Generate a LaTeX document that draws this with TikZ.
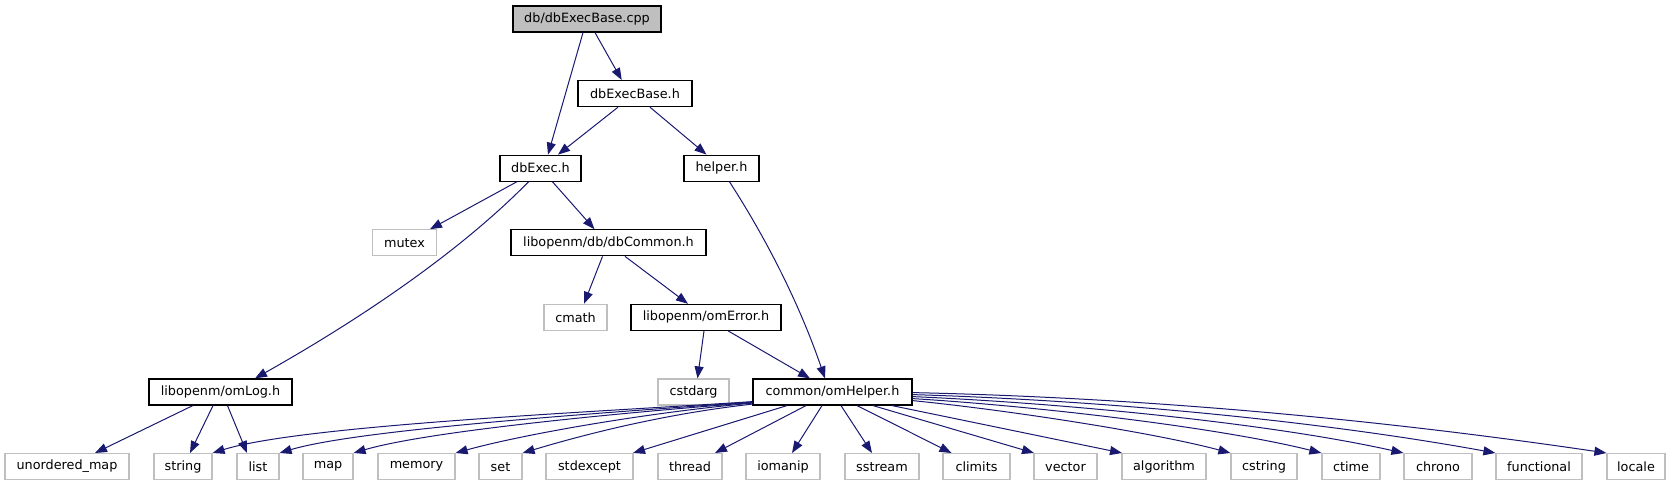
\documentclass[tikz,border=0pt]{standalone}
\usepackage{fontspec}
\setmainfont{DejaVu Sans}
\usetikzlibrary{arrows.meta, calc}
\definecolor{midnight}{HTML}{191970}
\definecolor{extgray}{HTML}{BFBFBF}

\begin{document}
\begin{tikzpicture}[
    x=1pt, y=-1pt,
    >={Triangle[length=12pt,width=9pt]},
    every node/.style={font=\fontsize{12.8}{15}\selectfont, inner sep=0pt, minimum height=26pt},
    hdr/.style={draw=black, line width=1.2pt, fill=white},
    sysinc/.style={draw=extgray, line width=1.2pt, fill=white},
    rootfile/.style={draw=black, line width=1.2pt, fill=extgray},
    incl/.style={->, draw=midnight, line width=1pt},
]
\useasboundingbox (0,0) rectangle (1674,485);
% project headers, one rank per row
\node[rootfile, minimum width=148pt] (cpp) at (587,19) {db/dbExecBase.cpp};
\node[hdr, minimum width=114pt] (execbase) at (635,93.6) {dbExecBase.h};
\node[hdr, minimum width=81pt] (dbexec) at (540.5,168.2) {dbExec.h};
\node[hdr, minimum width=75pt] (helper) at (721.5,168.2) {helper.h};
\node[sysinc, minimum width=64pt] (mutex) at (404.5,242.8) {mutex};
\node[hdr, minimum width=195pt] (dbcommon) at (608.5,242.8) {libopenm/db/dbCommon.h};
\node[sysinc, minimum width=63pt] (cmath) at (575.5,317.4) {cmath};
\node[hdr, minimum width=150pt] (omerror) at (706,317.4) {libopenm/omError.h};
\node[hdr, minimum width=143pt] (omlog) at (220.5,392) {libopenm/omLog.h};
\node[sysinc, minimum width=71pt] (cstdarg) at (693.5,392) {cstdarg};
\node[hdr, minimum width=159pt] (omhelper) at (832.5,392) {common/omHelper.h};
% standard library row
\foreach \nm/\cx/\w/\txt in {umap/67/124/unordered\_map, string/183/58/string, list/258/42/list,
    map/328/50/map, memory/416.5/77/memory, set/500.5/43/set, stdexcept/589.5/87/stdexcept,
    thread/690/64/thread, iomanip/783/74/iomanip, sstream/882/74/sstream, climits/976.5/67/climits,
    vector/1065.5/63/vector, algorithm/1164/84/algorithm, cstring/1264/66/cstring, ctime/1351/58/ctime,
    chrono/1438/68/chrono, functional/1539/86/functional, locale/1636/58/locale}
  {\node[sysinc, minimum width=\w pt] (\nm) at (\cx,466.6) {\txt};}
% upper includes
\draw[incl] ([xshift=-4pt]cpp.south) -- ([xshift=7.5pt]dbexec.north);
\draw[incl] ([xshift=8pt]cpp.south) -- ([xshift=-13.3pt]execbase.north);
\draw[incl] ([xshift=-17pt]execbase.south) -- ([xshift=17.5pt]dbexec.north);
\draw[incl] ([xshift=15pt]execbase.south) -- ([xshift=-15pt]helper.north);
\draw[incl] ([xshift=-23.7pt]dbexec.south) -- ([xshift=25.5pt]mutex.north);
\draw[incl] ([xshift=-12pt]dbexec.south) .. controls +(-50,51) and +(140,-79) .. ([xshift=34.5pt]omlog.north);
\draw[incl] ([xshift=12pt]dbexec.south) -- ([xshift=-14pt]dbcommon.north);
\draw[incl] ([xshift=8pt]helper.south) .. controls +(40,62) and +(-24,-70) .. ([xshift=-7.5pt]omhelper.north);
\draw[incl] ([xshift=-6pt]dbcommon.south) -- ([xshift=8.5pt]cmath.north);
\draw[incl] ([xshift=16.5pt]dbcommon.south) -- ([xshift=-18pt]omerror.north);
\draw[incl] ([xshift=-2pt]omerror.south) -- ([xshift=4pt]cstdarg.north);
\draw[incl] ([xshift=22.3pt]omerror.south) -- ([xshift=-22.5pt]omhelper.north);
% omLog.h
\draw[incl] ([xshift=-27.7pt]omlog.south) -- ([xshift=28pt]umap.north);
\draw[incl] ([xshift=-7.5pt]omlog.south) -- ([xshift=7pt]string.north);
\draw[incl] ([xshift=7pt]omlog.south) -- ([xshift=-11pt]list.north);
% omHelper.h fan: curves to the left, straight ones below, curves to the right
\draw[incl] ([yshift=4pt]omhelper.south west) .. controls +(-150,10) and +(90,-28) .. (string.north east);
\draw[incl] ([yshift=3.5pt]omhelper.south west) .. controls +(-140,10) and +(80,-24) .. (list.north east);
\draw[incl] ([yshift=3pt]omhelper.south west) .. controls +(-130,10) and +(75,-22) .. (map.north east);
\draw[incl] ([yshift=2.5pt]omhelper.south west) .. controls +(-110,10) and +(65,-18) .. (memory.north east);
\draw[incl] ([yshift=1.5pt]omhelper.south west) .. controls +(-90,10) and +(60,-18) .. (set.north east);
\foreach \sx/\tgt/\ex in {-45.5/stdexcept/43.5, -26.5/thread/25, -10.5/iomanip/9, 8.5/sstream/-10,
    24.5/climits/-25, 40.5/vector/-31.5, 59.5/algorithm/-42}
  {\draw[incl] ([xshift=\sx pt]omhelper.south) -- ([xshift=\ex pt]\tgt.north);}
\draw[incl] ([yshift=5pt]omhelper.south east) .. controls +(100,10) and +(-75,-20) .. (cstring.north west);
\draw[incl] ([yshift=7pt]omhelper.south east) .. controls +(130,8) and +(-100,-25) .. (ctime.north west);
\draw[incl] ([yshift=9pt]omhelper.south east) .. controls +(160,7) and +(-130,-29) .. (chrono.north west);
\draw[incl] ([yshift=11pt]omhelper.south east) .. controls +(200,6) and +(-170,-31) .. (functional.north west);
\draw[incl] ([yshift=13pt]omhelper.south east) .. controls +(230,5) and +(-230,-34) .. (locale.north west);
\end{tikzpicture}
\end{document}
